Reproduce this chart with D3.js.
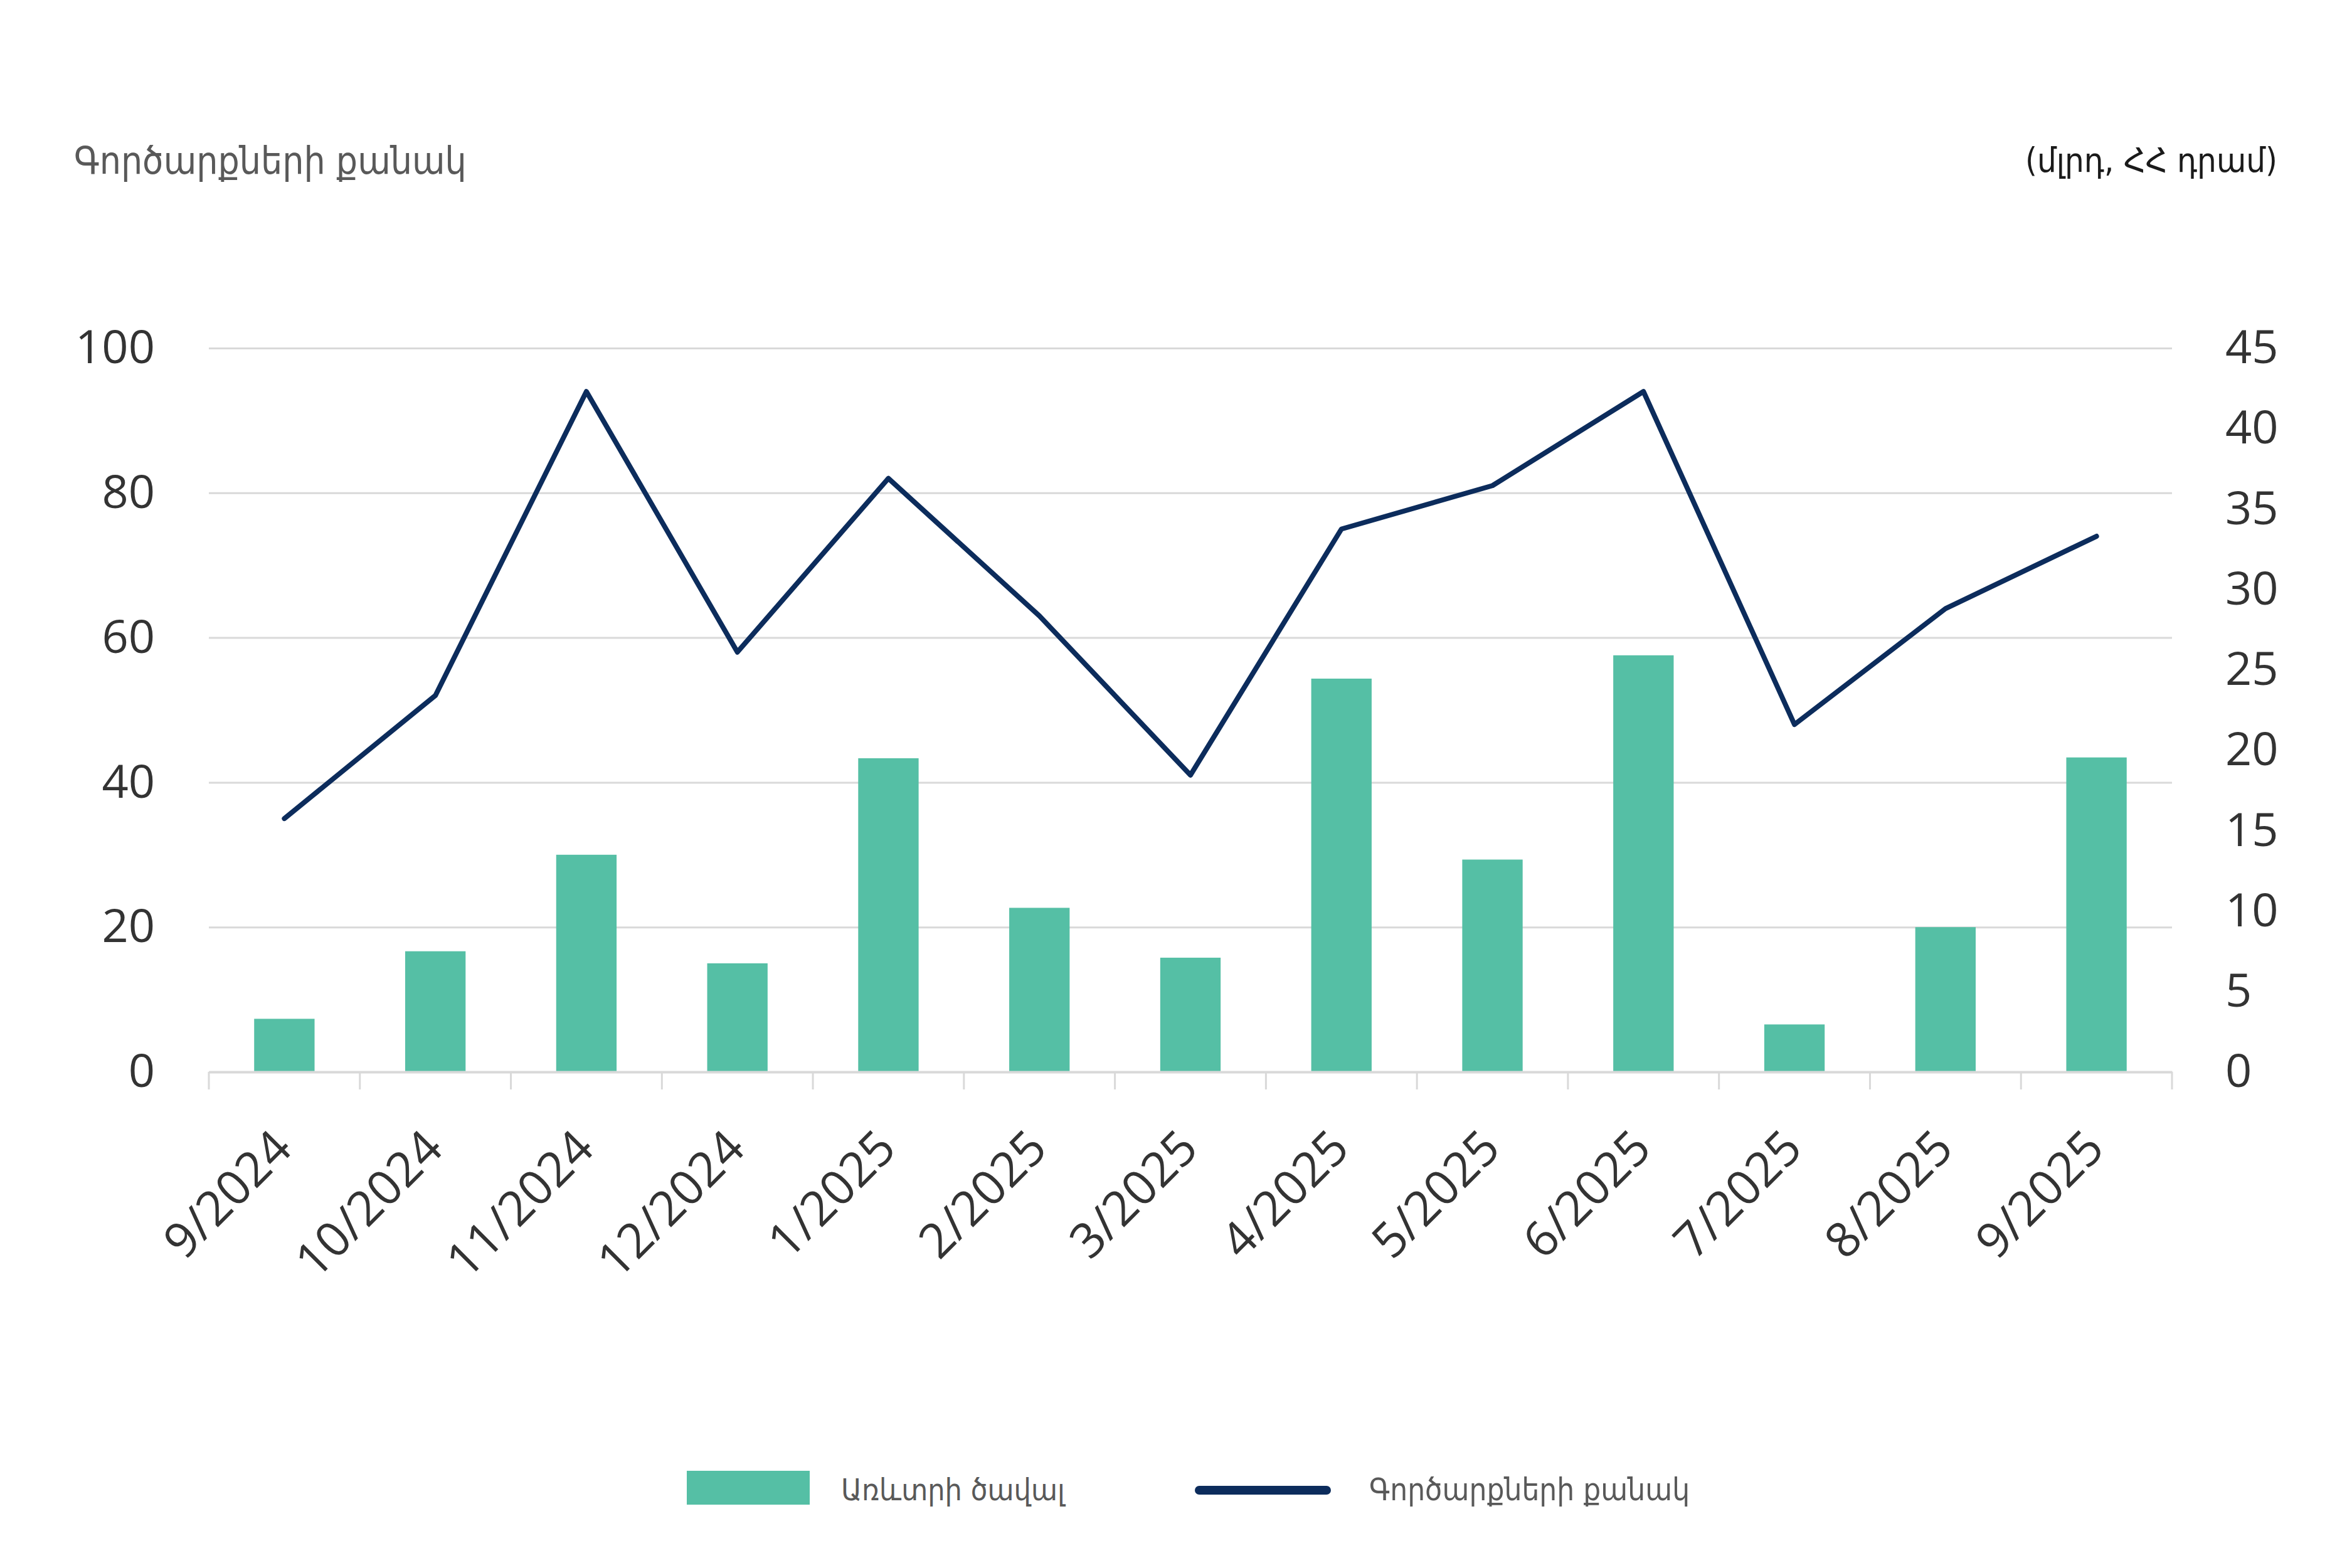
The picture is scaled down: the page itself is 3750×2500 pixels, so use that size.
<!DOCTYPE html>
<html>
<head>
<meta charset="utf-8">
<script src="https://cdn.jsdelivr.net/npm/d3@7/dist/d3.min.js"></script>
<style>
  body { margin: 0; background: #fff; }
  text { font-family: "Open Sans", sans-serif; }
  .arm { font-family: "DejaVu Sans Condensed", "DejaVu Sans", sans-serif; }
</style>
</head>
<body>
<svg id="chart" width="3750" height="2500"></svg>
<script>
// months on the x axis
var months = ['9/2024', '10/2024', '11/2024', '12/2024', '1/2025', '2/2025', '3/2025',
              '4/2025', '5/2025', '6/2025', '7/2025', '8/2025', '9/2025'];
// trade volume, bln AMD (bars, right axis)
var volume = [3.3, 7.5, 13.5, 6.75, 19.5, 10.2, 7.1, 24.45, 13.2, 25.9, 2.95, 9.0, 19.55];
// number of deals (line, left axis)
var deals = [35, 52, 94, 58, 82, 63, 41, 75, 81, 94, 48, 64, 74];

var leftTicks = [0, 20, 40, 60, 80, 100];
var rightTicks = [0, 5, 10, 15, 20, 25, 30, 35, 40, 45];

var titleLeft = 'Գործարքների քանակ';
var titleRight = '(մլրդ, ՀՀ դրամ)';
var legendBar = 'Առևտրի ծավալ';
var legendLine = 'Գործարքների քանակ';

var svg = d3.select('#chart');
var padding = { t: 555, r: 287, b: 791, l: 333 };
var chartWidth = 3750 - padding.l - padding.r;
var chartHeight = 2500 - padding.t - padding.b;

var gridColor = '#d9d9d9';
var barColor = '#55bfa5';
var lineColor = '#0c2c5c';

var xScale = d3.scaleBand().domain(months).range([0, chartWidth]).paddingInner(0.6).paddingOuter(0.3);
var xBand = d3.scaleBand().domain(months).range([0, chartWidth]);
var yLeft = d3.scaleLinear().domain([0, 100]).range([chartHeight, 0]);
var yRight = d3.scaleLinear().domain([0, 45]).range([chartHeight, 0]);

var chartG = svg.append('g')
    .attr('transform', `translate(${padding.l}, ${padding.t})`);

// gridlines
chartG.append('g').attr('class', 'grid')
    .call(d3.axisLeft(yLeft).tickValues(leftTicks).tickSize(-chartWidth).tickFormat(''))
    .call(g => g.select('.domain').remove())
    .selectAll('line').attr('stroke', gridColor).attr('stroke-width', 3);

// left axis labels
chartG.append('g')
    .call(d3.axisLeft(yLeft).tickValues(leftTicks).tickSize(0).tickPadding(86))
    .call(g => g.select('.domain').remove())
    .selectAll('text')
    .attr('font-size', 74).attr('fill', '#333').style('font-family', '"Open Sans", sans-serif');

// right axis labels
chartG.append('g')
    .attr('transform', `translate(${chartWidth}, 0)`)
    .call(d3.axisRight(yRight).tickValues(rightTicks).tickSize(0).tickPadding(85))
    .call(g => g.select('.domain').remove())
    .selectAll('text')
    .attr('font-size', 74).attr('fill', '#333').style('font-family', '"Open Sans", sans-serif');

// bars
chartG.selectAll('.bar')
    .data(months)
    .enter()
    .append('rect')
    .attr('class', 'bar')
    .attr('x', d => xScale(d))
    .attr('width', xScale.bandwidth())
    .attr('y', (d, i) => yRight(volume[i]))
    .attr('height', (d, i) => chartHeight - yRight(volume[i]))
    .attr('fill', barColor);

// x axis
var xAxis = chartG.append('g')
    .attr('transform', `translate(0, ${chartHeight})`)
    .call(d3.axisBottom(xBand).tickSize(0).tickPadding(0));
xAxis.select('.domain').attr('stroke', gridColor).attr('stroke-width', 4);
xAxis.selectAll('text')
    .attr('y', 0).attr('dy', 0)
    .attr('font-size', 77).attr('fill', '#333')
    .style('font-family', '"Open Sans", sans-serif')
    .style('text-anchor', 'end')
    .attr('transform', 'translate(16,126) rotate(-45)');

// tick marks between categories
var edges = months.map(d => xBand(d)).concat([chartWidth]);
xAxis.selectAll('.edge')
    .data(edges)
    .enter()
    .append('line')
    .attr('class', 'edge')
    .attr('x1', d => d).attr('x2', d => d)
    .attr('y1', 0).attr('y2', 28)
    .attr('stroke', gridColor).attr('stroke-width', 3);

// line
var line = d3.line()
    .x((d, i) => xBand(months[i]) + xBand.bandwidth() / 2)
    .y(d => yLeft(d));

chartG.append('path')
    .datum(deals)
    .attr('d', line)
    .attr('fill', 'none')
    .attr('stroke', lineColor)
    .attr('stroke-width', 8)
    .attr('stroke-linejoin', 'round')
    .attr('stroke-linecap', 'round');

// titles
svg.append('text').attr('class', 'arm')
    .attr('x', 118).attr('y', 277)
    .attr('font-size', 60).attr('fill', '#595959')
    .text(titleLeft);

svg.append('text').attr('class', 'arm')
    .attr('x', 3631).attr('y', 274)
    .attr('text-anchor', 'end')
    .attr('font-size', 54).attr('fill', '#1a1a1a')
    .text(titleRight);

// legend
var legend = svg.append('g');
legend.append('rect')
    .attr('x', 1095).attr('y', 2345).attr('width', 196).attr('height', 54)
    .attr('fill', barColor);
legend.append('text').attr('class', 'arm')
    .attr('x', 1341).attr('y', 2392)
    .attr('font-size', 48).attr('fill', '#595959')
    .text(legendBar);
legend.append('line')
    .attr('x1', 1912).attr('x2', 2115).attr('y1', 2376).attr('y2', 2376)
    .attr('stroke', lineColor).attr('stroke-width', 14).attr('stroke-linecap', 'round');
legend.append('text').attr('class', 'arm')
    .attr('x', 2183).attr('y', 2392)
    .attr('font-size', 49).attr('fill', '#595959')
    .text(legendLine);
</script>
</body>
</html>
